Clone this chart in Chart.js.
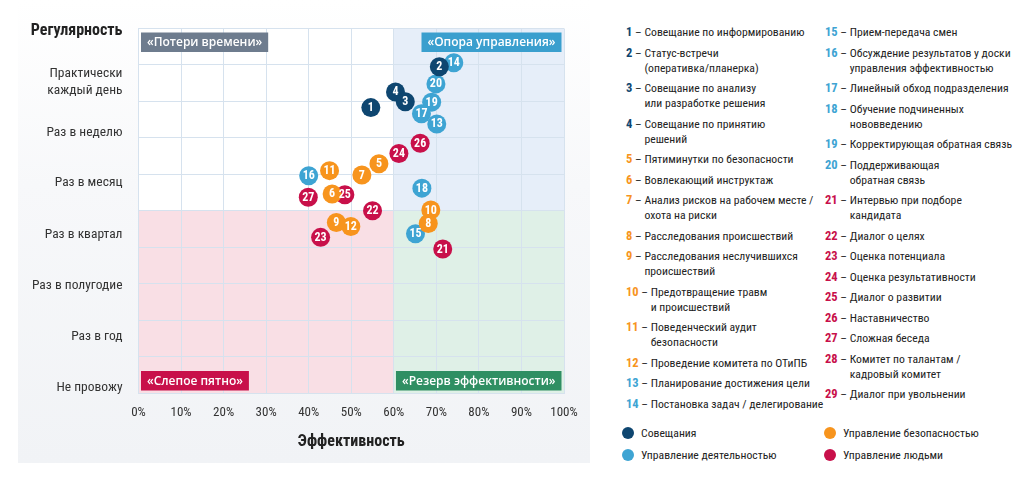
<!DOCTYPE html>
<html lang="ru">
<head>
<meta charset="utf-8">
<script src="https://cdn.jsdelivr.net/npm/chart.js@4/dist/chart.umd.min.js"></script>
<style>
  html, body { margin: 0; padding: 0; background: #fff; }
  body { width: 1024px; height: 484px; position: relative; overflow: hidden;
         font-family: "Liberation Sans Narrow", "Roboto Condensed", "DejaVu Sans Condensed", sans-serif; color: #222; }
  #panel { position: absolute; left: 18px; top: 0; width: 572px; height: 463px;
           background: linear-gradient(to bottom, #ffffff 0%, #f7f8fa 40%, #f1f3f6 100%); }
  #wrap { position: absolute; left: 0; top: 0; width: 590px; height: 484px; }
  #legend { position: absolute; left: 626px; top: 25px; width: 400px; }
  .col { position: absolute; top: 0; white-space: nowrap; }
  .item { display: flex; font-size: 11.7px; line-height: 15px; height: auto; margin-bottom: 5.5px; }
  .item .pre { white-space: pre; }
  .item .num { font-weight: bold; font-size: 12.5px; line-height: 0; }
  #groups { position: absolute; left: 620px; top: 425px; width: 400px; font-size: 11.7px; }
  .g { position: absolute; white-space: nowrap; line-height: 16px; }
  .g i { display: inline-block; width: 12px; height: 12px; border-radius: 50%; margin-right: 7px; vertical-align: -2px; }
</style>
</head>
<body>
<div id="panel"></div>
<div id="wrap"><canvas id="grafico"></canvas></div>
<div id="legend"></div>
<div id="groups"></div>
<script>
// Данные
const ids = [1,2,3,4,5,6,7,8,9,10,11,12,13,14,15,16,17,18,19,20,21,22,23,24,25,26,27];
const efetividade = [54.6,70.7,62.7,60.4,56.5,45.5,52.5,68.1,46.5,68.7,44.9,49.9,70.1,74.1,65.1,40.0,66.5,66.6,68.9,69.9,71.5,55.0,42.8,61.2,48.5,66.2,39.9];
const regularidade = [7.83,8.95,7.99,8.26,6.29,5.46,5.98,4.65,4.68,5.02,6.10,4.57,7.38,9.06,4.37,5.96,7.66,5.62,7.98,8.48,3.95,5.0,4.27,6.57,5.44,6.85,5.37];
const grupoPonto = [0,0,0,0,1,1,1,1,1,1,1,1,2,2,2,2,2,2,2,2,3,3,3,3,3,3,3];

const grupos = ["Совещания", "Управление безопасностью", "Управление деятельностью", "Управление людьми"];
const coresGrupo = ["#0e4670", "#f7941d", "#3ea4d3", "#c8104a"];

const nomes = [
  "Совещание по информированию",
  "Статус-встречи\n(оперативка/планерка)",
  "Совещание по анализу\nили разработке решения",
  "Совещание по принятию\nрешений",
  "Пятиминутки по безопасности",
  "Вовлекающий инструктаж",
  "Анализ рисков на рабочем месте /\nохота на риски",
  "Расследования происшествий",
  "Расследования неслучившихся\nпроисшествий",
  "Предотвращение травм\nи происшествий",
  "Поведенческий аудит\nбезопасности",
  "Проведение комитета по ОТиПБ",
  "Планирование достижения цели",
  "Постановка задач / делегирование",
  "Прием-передача смен",
  "Обсуждение результатов у доски\nуправления эффективностью",
  "Линейный обход подразделения",
  "Обучение подчиненных\nнововведению",
  "Корректирующая обратная связь",
  "Поддерживающая\nобратная связь",
  "Интервью при подборе\nкандидата",
  "Диалог о целях",
  "Оценка потенциала",
  "Оценка результативности",
  "Диалог о развитии",
  "Наставничество",
  "Сложная беседа",
  "Комитет по талантам /\nкадровый комитет",
  "Диалог при увольнении"
];
const grupoNome = [0,0,0,0,1,1,1,1,1,1,1,1,2,2,2,2,2,2,2,2,3,3,3,3,3,3,3,3,3];

const rotulosY = ["Регулярность", ["Практически", "каждый день"], "Раз в неделю", "Раз в месяц",
  "Раз в квартал", "Раз в полугодие", "Раз в год", "Не провожу"];
const posRotulosY = [9.93, 8.54, 7.15, 5.76, 4.34, 2.94, 1.55, 0.14];
const ticksX = [0,10,20,30,40,50,60,70,80,90,100];

const quadrantes = [
  { texto: "«Потери времени»", cor: "#6e7c8e", fundo: null },
  { texto: "«Опора управления»", cor: "#3a9fce", fundo: "#e6eef9" },
  { texto: "«Слепое пятно»", cor: "#c8104a", fundo: "#f9dfe5" },
  { texto: "«Резерв эффективности»", cor: "#2f8f63", fundo: "#dff0e7" }
];
const corteX = 60, corteY = 5;

const FONTE = '"Liberation Sans Narrow", "Roboto Condensed", "DejaVu Sans Condensed", sans-serif';

// Legenda HTML
function montarLegenda() {
  const leg = document.getElementById("legend");
  const col1 = document.createElement("div"); col1.className = "col"; col1.style.left = "0px";
  const col2 = document.createElement("div"); col2.className = "col"; col2.style.left = "199px";
  leg.appendChild(col1); leg.appendChild(col2);
  nomes.forEach((nome, i) => {
    const item = document.createElement("div");
    item.className = "item";
    const pre = document.createElement("span");
    pre.className = "pre";
    pre.innerHTML = '<span class="num" style="color:' + coresGrupo[grupoNome[i]] + '">' + (i + 1) + '</span> – ';
    const txt = document.createElement("span");
    txt.innerHTML = nome.replace("\n", "<br>");
    item.appendChild(pre); item.appendChild(txt);
    (i < 14 ? col1 : col2).appendChild(item);
  });
  const g = document.getElementById("groups");
  const posG = [[2, 0], [204, 0], [2, 22], [204, 22]];
  grupos.forEach((nome, k) => {
    const d = document.createElement("div");
    d.className = "g";
    d.style.left = posG[k][0] + "px";
    d.style.top = posG[k][1] + "px";
    d.innerHTML = '<i style="background:' + coresGrupo[k] + '"></i>' + nome;
    g.appendChild(d);
  });
}

// Fundo dos quadrantes e rótulos
const pluginQuadrantes = {
  id: "quadrantes",
  beforeDraw(chart) {
    const { ctx, chartArea: a, scales: { x, y } } = chart;
    const mx = x.getPixelForValue(corteX), my = y.getPixelForValue(corteY);
    ctx.save();
    ctx.fillStyle = "#ffffff";
    ctx.fillRect(a.left, a.top, a.right - a.left, a.bottom - a.top);
    ctx.fillStyle = quadrantes[1].fundo; ctx.fillRect(mx, a.top, a.right - mx, my - a.top);
    ctx.fillStyle = quadrantes[2].fundo; ctx.fillRect(a.left, my, mx - a.left, a.bottom - my);
    ctx.fillStyle = quadrantes[3].fundo; ctx.fillRect(mx, my, a.right - mx, a.bottom - my);
    ctx.restore();
  },
  beforeDatasetsDraw(chart) {
    const { ctx, chartArea: a } = chart;
    ctx.save();
    ctx.font = '600 12px "Open Sans", sans-serif';
    ctx.textBaseline = "middle";
    const h = 19.5, pad = 6;
    const caixa = (q, esquerda, topo) => {
      const w = ctx.measureText(q.texto).width + pad * 2;
      const x0 = esquerda ? a.left + 2.5 : a.right - 2.5 - w;
      const y0 = topo ? a.top + 4 : a.bottom - 2.5 - h;
      ctx.fillStyle = q.cor;
      ctx.fillRect(x0, y0, w, h);
      ctx.fillStyle = "#ffffff";
      ctx.textAlign = "left";
      ctx.fillText(q.texto, x0 + pad, y0 + h / 2 + 0.5);
    };
    caixa(quadrantes[0], true, true);
    caixa(quadrantes[1], false, true);
    caixa(quadrantes[2], true, false);
    caixa(quadrantes[3], false, false);
    ctx.restore();
  },
  afterDatasetsDraw(chart) {
    const { ctx } = chart;
    const meta = chart.getDatasetMeta(0);
    const ds = chart.data.datasets[0];
    ctx.save();
    ctx.font = "bold 12px " + FONTE;
    ctx.fillStyle = "#ffffff";
    ctx.textAlign = "center";
    ctx.textBaseline = "middle";
    meta.data.forEach((pt, i) => {
      ctx.fillText(String(ds.data[i].id), pt.x, pt.y + 0.5);
    });
    ctx.restore();
  }
};

function criarGrafico() {
  // pontos em ordem decrescente para que os números menores fiquem por cima
  const pontos = ids.map((id, i) => ({ x: efetividade[i], y: regularidade[i], id: id, g: grupoPonto[i] })).reverse();
  const ctx = document.getElementById("grafico").getContext("2d");
  new Chart(ctx, {
    type: "scatter",
    data: {
      datasets: [{
        data: pontos,
        backgroundColor: pontos.map(p => coresGrupo[p.g]),
        borderWidth: 0,
        pointRadius: 9.5,
        pointHoverRadius: 9.5
      }]
    },
    options: {
      responsive: true,
      maintainAspectRatio: false,
      animation: false,
      layout: { padding: { left: 0, right: 26, top: 28.5, bottom: 28 } },
      plugins: { legend: { display: false }, tooltip: { enabled: false }, title: { display: false } },
      scales: {
        x: {
          type: "linear", min: 0, max: 100,
          afterBuildTicks: axis => { axis.ticks = ticksX.map(v => ({ value: v })); },
          afterFit: axis => { axis.height = 63; },
          grid: { color: "#d6e2ee", drawTicks: false },
          border: { color: "#d6e2ee" },
          ticks: { padding: 12, color: "#333", font: { family: FONTE, size: 13 }, callback: v => v + "%" },
          title: { display: true, text: "Эффективность", color: "#222", font: { family: FONTE, size: 16, weight: "bold" }, padding: { top: 4, bottom: 4 } }
        },
        y: {
          type: "linear", min: 0, max: 10, position: "left",
          ticks: { display: false, stepSize: 1 },
          afterFit: axis => { axis.width = 0; },
          grid: { color: "#d6e2ee", drawTicks: false },
          border: { color: "#d6e2ee" }
        },
        yl: {
          type: "linear", min: 0, max: 10, position: "left",
          afterBuildTicks: axis => { axis.ticks = posRotulosY.map(v => ({ value: v })); },
          afterFit: axis => { axis.width = 138.5; },
          grid: { display: false },
          border: { display: false },
          ticks: {
            autoSkip: false,
            padding: 8,
            callback: (v, i) => rotulosY[i],
            color: c => c.index === 0 ? "#222" : "#333",
            font: c => c.index === 0 ? { family: FONTE, size: 16, weight: "bold", lineHeight: 1.2 } : { family: FONTE, size: 13.5, lineHeight: 1.25 }
          }
        }
      }
    },
    plugins: [pluginQuadrantes]
  });
}

document.addEventListener("DOMContentLoaded", () => {
  montarLegenda();
  criarGrafico();
});
</script>
</body>
</html>
